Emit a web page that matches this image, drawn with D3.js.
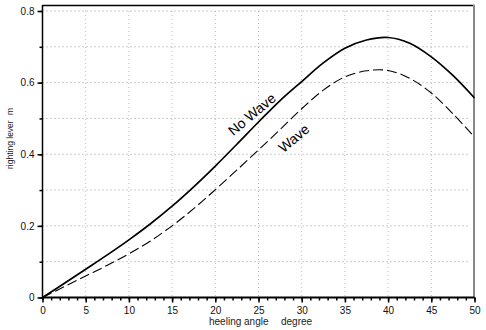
<!DOCTYPE html>
<html>
<head>
<meta charset="utf-8">
<script src="https://cdn.jsdelivr.net/npm/d3@7"></script>
<style>
  body { margin: 0; background: #fff; }
  svg { display: block; font-family: "Liberation Sans", Arial, sans-serif; }
</style>
</head>
<body>
<svg id="chart" width="486" height="330"></svg>
<script>
// heeling angle (degree)
const angles = [0, 2.5, 5, 7.5, 10, 12.5, 15, 17.5, 20, 22.5, 25, 27.5, 30, 32.5, 35, 37.5, 40, 42.5, 45, 47.5, 50];
// righting lever (m)
const noWave = [0, 0.039, 0.079, 0.119, 0.161, 0.206, 0.255, 0.309, 0.367, 0.428, 0.49, 0.55, 0.603, 0.655, 0.696, 0.719, 0.726, 0.71, 0.672, 0.62, 0.557];
const wave   = [0, 0.03, 0.06, 0.09, 0.122, 0.158, 0.2, 0.248, 0.301, 0.356, 0.412, 0.469, 0.527, 0.579, 0.616, 0.633, 0.634, 0.612, 0.571, 0.513, 0.448];
const xTicks = [0, 5, 10, 15, 20, 25, 30, 35, 40, 45, 50];
const yTicks = [0, 0.2, 0.4, 0.6, 0.8];

const svg = d3.select('#chart');
const mLeft = 42.5, mRight = 474.5, mTop = 11, mBottom = 297.5;

const x = d3.scaleLinear().domain([0, 50]).range([mLeft, mRight]);
const y = d3.scaleLinear().domain([0, 0.8]).range([mBottom, mTop]);

// grid — horizontal every 0.1, vertical every 5 degrees
const grid = svg.append('g');
d3.range(1, 9).forEach(i => {
  grid.append('line')
    .attr('x1', mLeft).attr('x2', mRight - 4)
    .attr('y1', y(i / 10)).attr('y2', y(i / 10))
    .attr('stroke', '#999').attr('stroke-width', 1).attr('stroke-dasharray', '1,3');
});
xTicks.slice(1, -1).forEach(t => {
  grid.append('line')
    .attr('x1', x(t)).attr('x2', x(t))
    .attr('y1', mTop).attr('y2', mBottom)
    .attr('stroke', '#bbb').attr('stroke-width', 1).attr('stroke-dasharray', '1,3');
});

// frame: top black, right grey
svg.append('line').attr('x1', mLeft).attr('x2', mRight).attr('y1', 5.5).attr('y2', 5.5)
  .attr('stroke', '#000').attr('stroke-width', 1.5);
svg.append('line').attr('x1', mRight - 0.5).attr('x2', mRight - 0.5).attr('y1', 5).attr('y2', mBottom)
  .attr('stroke', '#888').attr('stroke-width', 2);

// axes
const xMinor = svg.append('g').attr('transform', `translate(0,${mBottom})`)
  .call(d3.axisBottom(x).tickValues(d3.range(0, 51, 1)).tickSize(3).tickFormat(''));
const xAxis = svg.append('g').attr('transform', `translate(0,${mBottom})`)
  .call(d3.axisBottom(x).tickValues(xTicks).tickSize(5).tickPadding(4));
const yMinor = svg.append('g').attr('transform', `translate(${mLeft},0)`)
  .call(d3.axisLeft(y).tickValues(d3.range(0, 9).map(i => i / 10)).tickSize(3).tickFormat(''));
const yAxis = svg.append('g').attr('transform', `translate(${mLeft},0)`)
  .call(d3.axisLeft(y).tickValues(yTicks).tickSize(5).tickPadding(3)
    .tickFormat(d => d === 0 ? '0' : d3.format('.1f')(d)));

[xMinor, xAxis, yMinor, yAxis].forEach(a => {
  a.select('.domain').remove();
  a.selectAll('.tick line').attr('stroke', '#000').attr('stroke-width', 1.5);
});
[xAxis, yAxis].forEach(a => {
  a.selectAll('.tick text').attr('font-size', 10).attr('fill', '#111')
    .attr('font-family', '"Liberation Sans", Arial, sans-serif');
});
svg.append('line').attr('x1', mLeft).attr('x2', mRight).attr('y1', mBottom).attr('y2', mBottom)
  .attr('stroke', '#000').attr('stroke-width', 1.8);
svg.append('line').attr('x1', mLeft).attr('x2', mLeft).attr('y1', 5).attr('y2', mBottom)
  .attr('stroke', '#000').attr('stroke-width', 1.5);

// curves
const line = d3.line().x((d, i) => x(angles[i])).y(d => y(d)).curve(d3.curveCatmullRom);
svg.append('path').datum(noWave).attr('d', line)
  .attr('fill', 'none').attr('stroke', '#000').attr('stroke-width', 1.7);
svg.append('path').datum(wave).attr('d', line)
  .attr('fill', 'none').attr('stroke', '#000').attr('stroke-width', 1.1)
  .attr('stroke-dasharray', '10,4');

// curve labels
svg.append('text').attr('transform', 'translate(255,118) rotate(-40)')
  .attr('text-anchor', 'middle').attr('font-size', 14).text('No Wave');
svg.append('text').attr('transform', 'translate(297,142) rotate(-40)')
  .attr('text-anchor', 'middle').attr('font-size', 14).text('Wave');

// axis titles
svg.append('text').attr('x', 209).attr('y', 325).attr('font-size', 10).attr('fill', '#222')
  .text('heeling angle');
svg.append('text').attr('x', 281).attr('y', 325).attr('font-size', 10).attr('fill', '#222')
  .text('degree');
svg.append('text').attr('transform', 'translate(13,169) rotate(-90)')
  .attr('font-size', 8.5).attr('fill', '#222').text('righting lever');
svg.append('text').attr('transform', 'translate(13,115) rotate(-90)')
  .attr('font-size', 8.5).attr('fill', '#222').text('m');
</script>
</body>
</html>
